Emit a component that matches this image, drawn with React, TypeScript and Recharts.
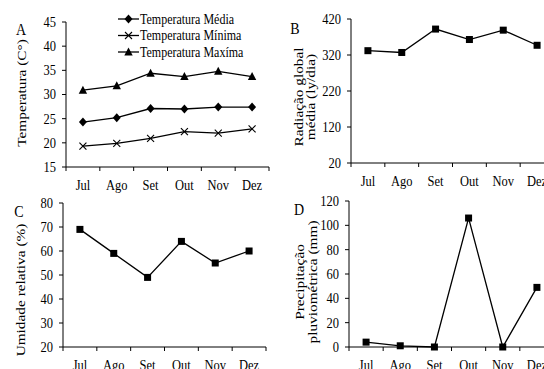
import React from 'react';
import { LineChart, Line, XAxis, YAxis } from 'recharts';

// dados mensais (Jul–Dez)
const months = ['Jul', 'Ago', 'Set', 'Out', 'Nov', 'Dez'];
const tempMedia = [24.3, 25.2, 27.1, 27.0, 27.4, 27.4];
const tempMinima = [19.3, 19.9, 20.9, 22.3, 22.0, 22.9];
const tempMaxima = [30.9, 31.8, 34.4, 33.7, 34.8, 33.7];
const radiacao = [332, 327, 392, 363, 389, 347];
const umidade = [69, 59, 49, 64, 55, 60];
const precipitacao = [4, 1, 0, 106, 0, 49];

const tempTicks = [15, 20, 25, 30, 35, 40, 45];
const radTicks = [20, 120, 220, 320, 420];
const umidTicks = [20, 30, 40, 50, 60, 70, 80];
const precTicks = [0, 20, 40, 60, 80, 100, 120];

const FONT = '"Liberation Serif", "Times New Roman", serif';

type Series = { key: string; name: string; values: number[]; dot: string };

const tempSeries: Series[] = [
    { key: 'media', name: 'Temperatura Média', values: tempMedia, dot: 'diamond' },
    { key: 'minima', name: 'Temperatura Mínima', values: tempMinima, dot: 'cross' },
    { key: 'maxima', name: 'Temperatura Maxíma', values: tempMaxima, dot: 'triangle' },
];

const Marker = ({ cx, cy, kind }: any) => {
    if (cx == null || cy == null) return <g />;
    if (kind === 'square') return <rect x={cx - 3.5} y={cy - 3.5} width={7} height={7} fill="#000" />;
    if (kind === 'diamond')
        return <polygon points={`${cx},${cy - 4.5} ${cx + 4},${cy} ${cx},${cy + 4.5} ${cx - 4},${cy}`} fill="#000" />;
    if (kind === 'triangle')
        return <polygon points={`${cx},${cy - 4.5} ${cx + 4.2},${cy + 3.5} ${cx - 4.2},${cy + 3.5}`} fill="#000" />;
    return (
        <g stroke="#000" strokeWidth={1.1}>
            <line x1={cx - 3.5} y1={cy - 3.5} x2={cx + 3.5} y2={cy + 3.5} />
            <line x1={cx - 3.5} y1={cy + 3.5} x2={cx + 3.5} y2={cy - 3.5} />
        </g>
    );
};

// texto um pouco "esticado" na vertical, como no original
const StretchText = ({ x, y, anchor = 'middle', size = 12.5, sy = 1.2, rotate = false, children }: any) => (
    <text
        transform={`translate(${x},${y}) scale(1,${sy})${rotate ? ' rotate(-90)' : ''}`}
        textAnchor={anchor}
        dominantBaseline="central"
        fontFamily={FONT}
        fontSize={size}
        fill="#000"
    >
        {children}
    </text>
);

const MonthTick = (props: any) => {
    const { x, y, payload, band } = props;
    const i = payload.value;
    if (i >= months.length) return <g />;
    return <StretchText x={x + band / 2} y={y + 14}>{months[i]}</StretchText>;
};

const ValueTick = (props: any) => {
    const { x, y, payload } = props;
    return <StretchText x={x} y={y} anchor="end">{payload.value}</StretchText>;
};

interface PanelProps {
    left: number; top: number; width: number; height: number;
    mTop: number; mRight: number; yWidth: number; xHeight: number;
    domain: [number, number]; ticks: number[]; series: Series[];
    title: string[]; titleX: number[]; titleY: number;
    letter: string; letterX: number; letterY: number;
}

const Panel = (p: PanelProps) => {
    const data = months.map((m, i) => {
        const row: any = { mes: m, x: i + 0.5 };
        p.series.forEach(s => { row[s.key] = s.values[i]; });
        return row;
    });
    const band = (p.width - p.mRight - p.yWidth) / months.length;
    const renderTitle = () => (
        <g>
            {p.title.map((t, i) => (
                <StretchText key={t} x={p.titleX[i]} y={p.titleY} size={13} sy={1.18} rotate>{t}</StretchText>
            ))}
            <StretchText x={p.letterX} y={p.letterY} size={14}>{p.letter}</StretchText>
        </g>
    );
    return (
        <div style={{ position: 'absolute', left: p.left, top: p.top }}>
            <LineChart width={p.width} height={p.height} data={data}
                margin={{ top: p.mTop, right: p.mRight, bottom: 0, left: 0 }}>
                <XAxis type="number" dataKey="x" domain={[0, months.length]} ticks={[0, 1, 2, 3, 4, 5, 6]}
                    interval={0} height={p.xHeight} tickSize={4} tickMargin={0}
                    axisLine={{ stroke: '#000' }} tickLine={{ stroke: '#000' }}
                    tick={<MonthTick band={band} />} />
                <YAxis type="number" domain={p.domain} ticks={p.ticks} interval={0} width={p.yWidth}
                    tickSize={4} tickMargin={6} axisLine={{ stroke: '#000' }} tickLine={{ stroke: '#000' }}
                    tick={<ValueTick />} label={renderTitle} />
                {p.series.map(s => (
                    <Line key={s.key} type="linear" dataKey={s.key} name={s.name} stroke="#000" strokeWidth={1.3}
                        isAnimationActive={false}
                        dot={(d: any) => <Marker key={`${s.key}-${d.index}`} cx={d.cx} cy={d.cy} kind={s.dot} />} />
                ))}
            </LineChart>
        </div>
    );
};

const TempLegend = () => (
    <svg width={275} height={70} style={{ position: 'absolute', left: 0, top: 0, pointerEvents: 'none' }}>
        {tempSeries.map((s, i) => {
            const y = 19 + i * 16.5;
            return (
                <g key={s.key}>
                    <line x1={118} x2={139} y1={y} y2={y} stroke="#000" strokeWidth={1.3} />
                    <Marker cx={128.5} cy={y} kind={s.dot} />
                    <StretchText x={140} y={y} anchor="start" size={12} sy={1.25}>{s.name}</StretchText>
                </g>
            );
        })}
    </svg>
);

export default function App() {
    return (
        <div style={{ position: 'absolute', left: 0, top: 0, width: 544, height: 369, overflow: 'hidden', background: '#fff' }}>
            <Panel left={0} top={0} width={275} height={200} mTop={22} mRight={6} yWidth={66} xHeight={33}
                domain={[15, 45]} ticks={tempTicks} series={tempSeries}
                title={['Temperatura (C°)']} titleX={[21]} titleY={93} letter="A" letterX={21} letterY={29} />
            <TempLegend />
            <Panel left={272} top={0} width={282} height={196} mTop={19} mRight={0} yWidth={79} xHeight={33}
                domain={[20, 420]} ticks={radTicks}
                series={[{ key: 'rad', name: 'Radiação global média', values: radiacao, dot: 'square' }]}
                title={['Radiação global', 'média (ly/dia)']} titleX={[26, 38]} titleY={97}
                letter="B" letterX={23} letterY={28} />
            <Panel left={0} top={185} width={270} height={184} mTop={18} mRight={4} yWidth={63} xHeight={22}
                domain={[20, 80]} ticks={umidTicks}
                series={[{ key: 'umid', name: 'Umidade relativa', values: umidade, dot: 'square' }]}
                title={['Umidade relativa (%)']} titleX={[20]} titleY={105} letter="C" letterX={19} letterY={26} />
            <Panel left={272} top={185} width={282} height={184} mTop={16} mRight={0} yWidth={77} xHeight={22}
                domain={[0, 120]} ticks={precTicks}
                series={[{ key: 'prec', name: 'Precipitação pluviométrica', values: precipitacao, dot: 'square' }]}
                title={['Precipitação', 'pluviométrica (mm)']} titleX={[27, 40]} titleY={97}
                letter="D" letterX={27} letterY={24} />
        </div>
    );
}
